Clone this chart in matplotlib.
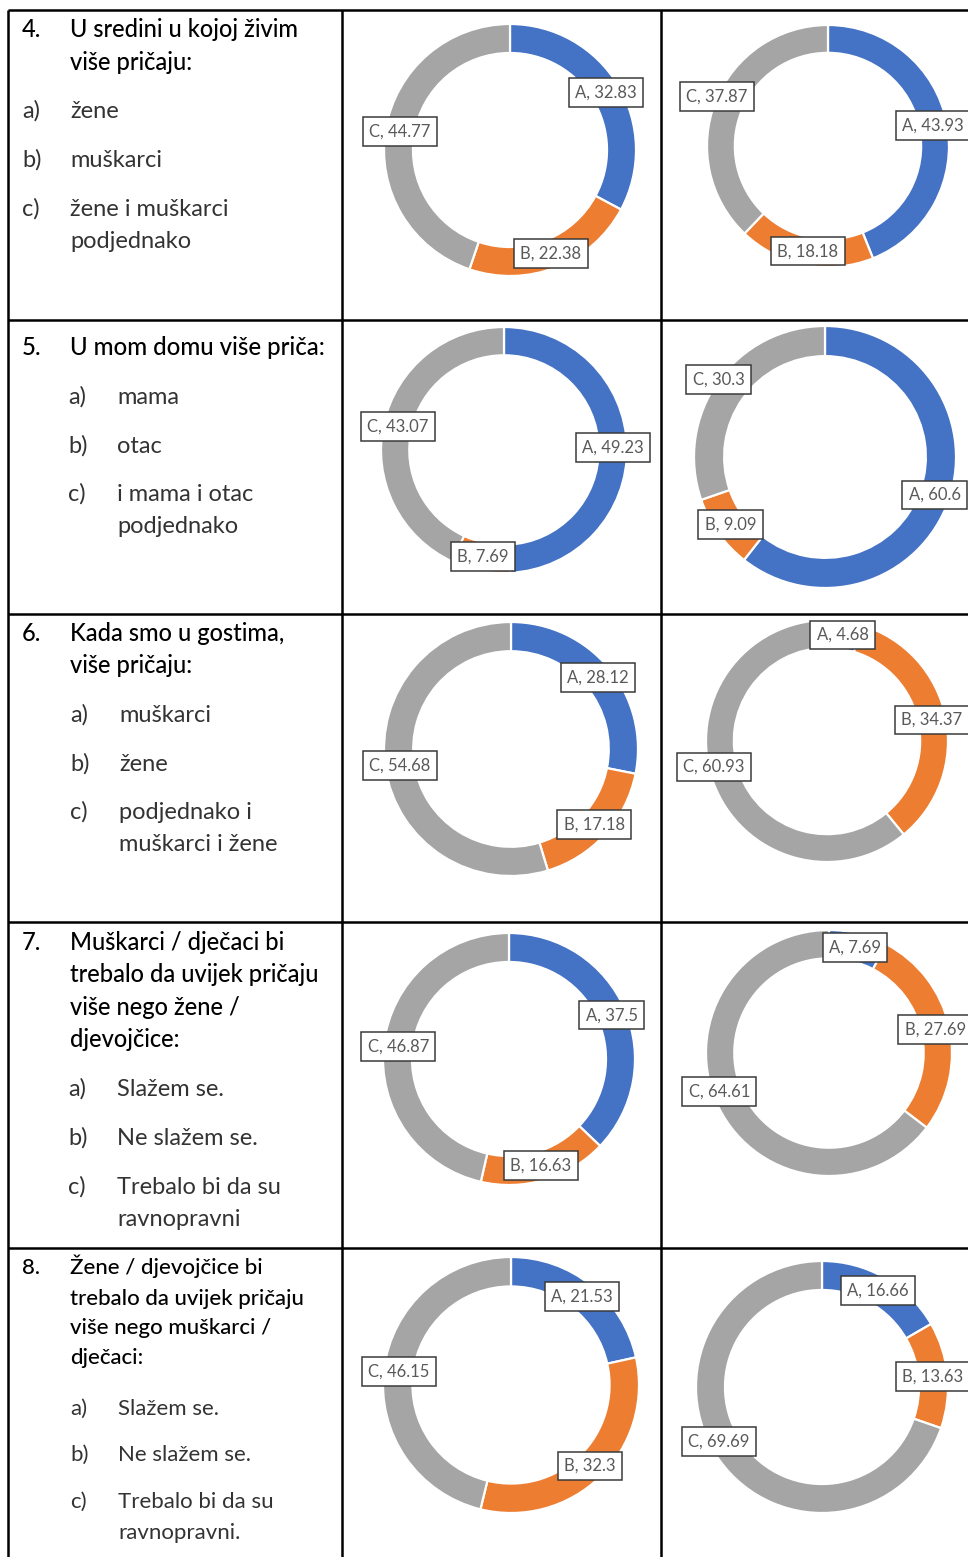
import matplotlib.pyplot as plt
import numpy as np

W, H = 968, 1557

# survey answers (percent), one value per question row
mid_a = [32.83, 49.23, 28.12, 37.5, 21.53]
mid_b = [22.38, 7.69, 17.18, 16.63, 32.3]
mid_c = [44.77, 43.07, 54.68, 46.87, 46.15]
right_a = [43.93, 60.6, 4.68, 7.69, 16.66]
right_b = [18.18, 9.09, 34.37, 27.69, 13.63]
right_c = [37.87, 30.3, 60.93, 64.61, 69.69]
slice_names = ['A', 'B', 'C']

numbers = ['4.', '5.', '6.', '7.', '8.']
titles = [
    ['U sredini u kojoj živim', 'više pričaju:'],
    ['U mom domu više priča:'],
    ['Kada smo u gostima,', 'više pričaju:'],
    ['Muškarci / dječaci bi', 'trebalo da uvijek pričaju', 'više nego žene /', 'djevojčice:'],
    ['Žene / djevojčice bi', 'trebalo da uvijek pričaju', 'više nego muškarci /', 'dječaci:'],
]
options = [
    ['žene', 'muškarci', 'žene i muškarci', 'podjednako'],
    ['mama', 'otac', 'i mama i otac', 'podjednako'],
    ['muškarci', 'žene', 'podjednako i', 'muškarci i žene'],
    ['Slažem se.', 'Ne slažem se.', 'Trebalo bi da su', 'ravnopravni'],
    ['Slažem se.', 'Ne slažem se.', 'Trebalo bi da su', 'ravnopravni.'],
]

colors = ['#4472C4', '#ED7D31', '#A5A5A5']
font = ['Lato', 'DejaVu Sans']

# layout (pixels from top-left)
title_y = [[37, 70], [355], [641, 673], [950, 982, 1015, 1047], [1274, 1305, 1334, 1364]]
opt_y = [[118, 167, 216, 248], [404, 453, 501, 533], [722, 771, 819, 851],
         [1096, 1145, 1194, 1226], [1415, 1461, 1508, 1539]]
opt_x = [(22, 70), (68, 117), (70, 119), (68, 117), (70, 118)]
title_size = [17, 17.3, 17, 17, 16]
opt_size = [17, 17, 17, 17, 16]
mid_geom = [(510, 150, 126), (504, 450, 123), (511, 749, 127), (509, 1059, 126), (511, 1385, 128)]
right_geom = [(828, 146, 121), (825, 457, 131), (827, 741, 121), (829, 1053, 123), (822, 1387, 126)]
# the C labels of the right-hand charts sit a little up and left of the ring
right_c_shift = (-12, -10)

fig = plt.figure(figsize=(W / 100, H / 100), dpi=100)
ax = fig.add_axes([0, 0, 1, 1])


def donut(values, cx, cy, r, c_shift=(0, 0)):
    cy = H - cy
    width = 0.23 * r
    ax.pie(values, center=(cx, cy), radius=r, startangle=90, counterclock=False,
           colors=colors, wedgeprops=dict(width=width, edgecolor='white', linewidth=1.6))
    total = sum(values)
    start = 0
    rm = r - width / 2
    for name, v in zip(slice_names, values):
        mid = (start + v / 2) / total * 2 * np.pi
        start += v
        x = cx + rm * np.sin(mid)
        y = cy + rm * np.cos(mid)
        if name == 'C':
            x += c_shift[0]
            y -= c_shift[1]
        ax.text(x, y, f'{name}, {v:g}', ha='center', va='center', fontsize=12,
                family=font, color='#595959',
                bbox=dict(boxstyle='square,pad=0.38', fc='white', ec='#3a3a3a', lw=1.1))


for i in range(5):
    donut([mid_a[i], mid_b[i], mid_c[i]], *mid_geom[i])
    donut([right_a[i], right_b[i], right_c[i]], *right_geom[i], c_shift=right_c_shift)

    ax.text(22, H - title_y[i][0], numbers[i], fontsize=title_size[i], family=font,
            color='black', va='baseline', weight='medium')
    for line, y in zip(titles[i], title_y[i]):
        ax.text(70, H - y, line, fontsize=title_size[i], family=font, color='black',
                va='baseline', weight='medium')
    for j, (text, y) in enumerate(zip(options[i], opt_y[i])):
        if j < 3:
            ax.text(opt_x[i][0], H - y, 'abc'[j] + ')', fontsize=opt_size[i], family=font,
                    color='#333333', va='baseline')
        ax.text(opt_x[i][1], H - y, text, fontsize=opt_size[i], family=font,
                color='#333333', va='baseline')

# table grid
for x in [8, 342, 661]:
    ax.plot([x, x], [H - 10, 0], color='black', lw=1.8, solid_capstyle='butt')
for y in [10, 320, 614, 922, 1248]:
    ax.plot([8, W], [H - y, H - y], color='black', lw=1.8, solid_capstyle='butt')

ax.set_xlim(0, W)
ax.set_ylim(0, H)
ax.set_aspect('auto')
ax.axis('off')

fig.savefig('out.png', dpi=100)
